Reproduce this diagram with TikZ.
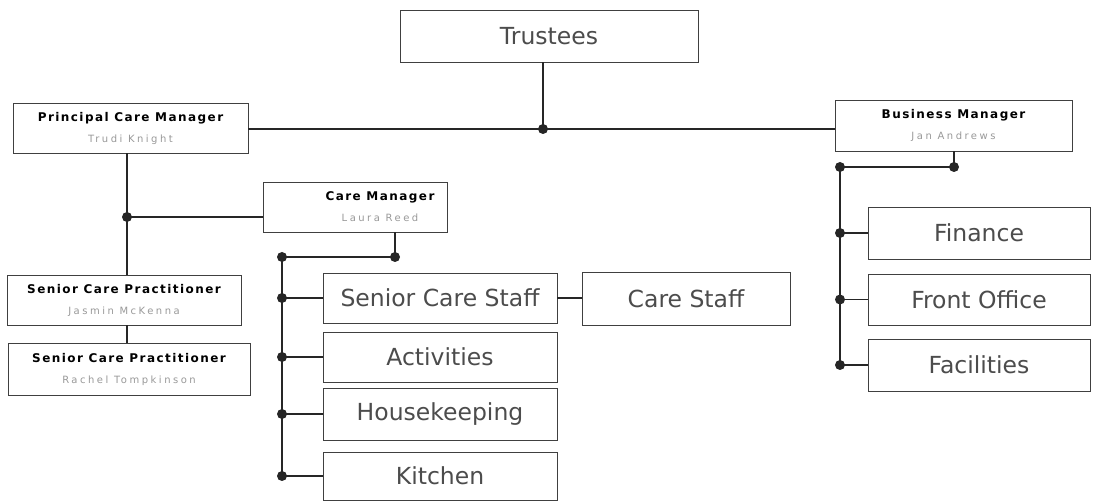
\documentclass[tikz,border=0pt]{standalone}
\usepackage{fontspec}
\setmainfont{DejaVu Sans}
\newfontfamily\spaced[LetterSpace=12]{DejaVu Sans}
\newfontfamily\spacedname[LetterSpace=25]{DejaVu Sans}
\newcommand{\mgrtext}[3][0pt]{\hspace*{#1}{\spaced\bfseries #2}\\[7pt]\hspace*{#1}{\spacedname\fontsize{10}{12}\selectfont\color{black!40}#3}}
\begin{document}
\begin{tikzpicture}[x=1pt,y=-1pt,
  box/.style={draw=black!75, line width=0.8pt, fill=white, inner sep=0pt, align=center},
  big/.style={box, font=\fontsize{23.5}{26}\selectfont, text=black!70},
  mgr/.style={box, font=\fontsize{12}{14}\selectfont, text=black},
  conn/.style={draw=black!85, line width=1.5pt},
  dot/.style={circle, fill=black!85, inner sep=0pt, minimum size=10pt}]
\useasboundingbox (0,0) rectangle (1093,502);

% boxes
\node[big, minimum width=298pt, minimum height=52pt] (trustees) at (549,36) {Trustees};
\node[mgr, minimum width=235pt, minimum height=50pt] (pcm) at (130.5,128) {\mgrtext{Principal Care Manager}{Trudi Knight}};
\node[mgr, minimum width=237pt, minimum height=51pt] (bm) at (953.5,125.5) {\mgrtext{Business Manager}{Jan Andrews}};
\node[mgr, minimum width=184pt, minimum height=50pt] (cm) at (355,207) {\mgrtext[50pt]{Care Manager}{Laura Reed}};
\node[mgr, minimum width=234pt, minimum height=50pt] (scp1) at (124,300) {\mgrtext{Senior Care Practitioner}{Jasmin McKenna}};
\node[mgr, minimum width=242pt, minimum height=52pt] (scp2) at (129,369) {\mgrtext{Senior Care Practitioner}{Rachel Tompkinson}};

\node[big, minimum width=234pt, minimum height=50pt] (scs) at (440,298) {Senior Care Staff};
\node[big, minimum width=208pt, minimum height=53pt] (cs) at (686,298.5) {Care Staff};
\node[big, minimum width=234pt, minimum height=50pt] (act) at (440,357) {Activities};
\node[big, minimum width=234pt, minimum height=52pt] (hk) at (440,414) {Housekeeping};
\node[big, minimum width=234pt, minimum height=48pt] (kit) at (440,476) {Kitchen};

\node[big, minimum width=222pt, minimum height=52pt] (fin) at (979,233) {Finance};
\node[big, minimum width=222pt, minimum height=51pt] (fo) at (979,299.5) {Front Office};
\node[big, minimum width=222pt, minimum height=52pt] (fac) at (979,365) {Facilities};

% junction coordinates
\coordinate (jT) at (543,129);
\coordinate (jP) at (127,217);
\coordinate (jC) at (395,257);
\coordinate (jC2) at (282,257);
\coordinate (jS) at (282,298);
\coordinate (jA) at (282,357);
\coordinate (jH) at (282,414);
\coordinate (jK) at (282,476);
\coordinate (jB) at (954,167);
\coordinate (jB2) at (840,167);
\coordinate (jF) at (840,233);
\coordinate (jO) at (840,299.5);
\coordinate (jL) at (840,365);

% connectors
\draw[conn] (trustees.south -| jT) -- (jT);
\draw[conn] (pcm.east |- jT) -- (bm.west |- jT);
\draw[conn] (pcm.south -| jP) -- (scp1.north -| jP);
\draw[conn] (jP) -- (jP -| cm.west);
\draw[conn] (scp1.south -| jP) -- (scp2.north -| jP);
\draw[conn] (cm.south -| jC) -- (jC) -- (jC2) -- (jK);
\draw[conn] (jS) -- (scs.west);
\draw[conn] (jA) -- (act.west);
\draw[conn] (jH) -- (hk.west);
\draw[conn] (jK) -- (kit.west);
\draw[conn] (scs.east) -- (scs.east -| cs.west);
\draw[conn] (bm.south -| jB) -- (jB) -- (jB2) -- (jL);
\draw[conn] (jF) -- (fin.west);
\draw[conn] (jO) -- (fo.west);
\draw[conn] (jL) -- (fac.west);

% dots
\foreach \p in {jT,jP,jC,jC2,jS,jA,jH,jK,jB,jB2,jF,jO,jL}
  \node[dot] at (\p) {};
\end{tikzpicture}
\end{document}
